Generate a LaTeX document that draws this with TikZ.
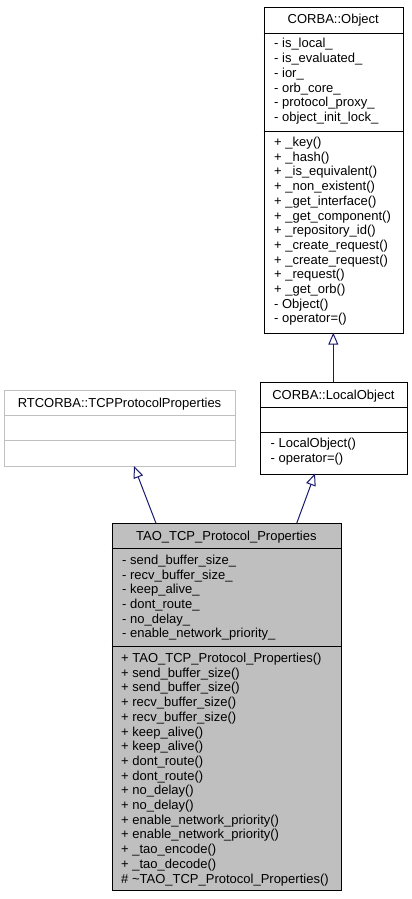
\documentclass[tikz,border=0pt]{standalone}
\usepackage{fontspec}
\setmainfont{Liberation Sans}
\usetikzlibrary{arrows.meta}
\definecolor{edgeblue}{HTML}{191970}
\definecolor{grayfill}{HTML}{BFBFBF}
\definecolor{grayline}{HTML}{C0C0C0}
\begin{document}
\begin{tikzpicture}[x=1pt,y=-1pt,
  classbox/.style={draw=black,line width=1pt,fill=white,inner sep=0pt,anchor=north west},
  sepline/.style={draw=black,line width=1pt},
  member/.style={anchor=base west,inner sep=0pt,font=\fontsize{13}{14.7}\selectfont},
  ctitle/.style={anchor=base,inner sep=0pt,font=\fontsize{13}{14.7}\selectfont},
  inherit/.style={draw=edgeblue,line width=1pt,-{Triangle[open,length=12pt,width=10pt]}}]
\useasboundingbox (0,0) rectangle (412,899);

% ---------- CORBA::Object ----------
\node[classbox,minimum width=139.5pt,minimum height=326pt] (obj) at (263.5,6.7) {};
\draw[sepline] (263.5,33.3) -- (403,33.3);
\draw[sepline] (263.5,131.7) -- (403,131.7);
\node[ctitle] (objt) at (333.25,24) {CORBA::Object};
\foreach \t [count=\i from 0] in {- is\_local\_,- is\_evaluated\_,- ior\_,- orb\_core\_,- protocol\_proxy\_,- object\_init\_lock\_}
  \node[member] (oa\i) at (274,48+\i*14.7) {\t};
\foreach \t [count=\i from 0] in {+ \_key(),+ \_hash(),+ \_is\_equivalent(),+ \_non\_existent(),+ \_get\_interface(),+ \_get\_component(),+ \_repository\_id(),+ \_create\_request(),+ \_create\_request(),+ \_request(),+ \_get\_orb(),- Object(),- operator=()}
  \node[member] (om\i) at (274,146.5+\i*14.7) {\t};

% ---------- CORBA::LocalObject ----------
\node[classbox,minimum width=146.7pt,minimum height=91.5pt] (lo) at (260,382) {};
\draw[sepline] (260,407.3) -- (406.7,407.3);
\draw[sepline] (260,432.7) -- (406.7,432.7);
\node[ctitle] (lot) at (333.35,399.5) {CORBA::LocalObject};
\foreach \t [count=\i from 0] in {- LocalObject(),- operator=()}
  \node[member] (lm\i) at (270.5,447.5+\i*14.7) {\t};

% ---------- RTCORBA::TCPProtocolProperties ----------
\node[classbox,draw=grayline,minimum width=231pt,minimum height=76pt] (rt) at (4,390) {};
\draw[sepline,draw=grayline] (4,415) -- (235,415);
\draw[sepline,draw=grayline] (4,440.7) -- (235,440.7);
\node[ctitle] (rtt) at (119.5,407.3) {RTCORBA::TCPProtocolProperties};

% ---------- TAO_TCP_Protocol_Properties ----------
\node[classbox,fill=grayfill,minimum width=229.3pt,minimum height=366.7pt] (tao) at (111.7,523.3) {};
\draw[sepline] (111.7,548.3) -- (341,548.3);
\draw[sepline] (111.7,646.7) -- (341,646.7);
\node[ctitle] (taot) at (226.35,540.3) {TAO\_TCP\_Protocol\_Properties};
\foreach \t [count=\i from 0] in {- send\_buffer\_size\_,- recv\_buffer\_size\_,- keep\_alive\_,- dont\_route\_,- no\_delay\_,- enable\_network\_priority\_}
  \node[member] (ta\i) at (122,564.3+\i*14.7) {\t};
\foreach \t [count=\i from 0] in {+ TAO\_TCP\_Protocol\_Properties(),+ send\_buffer\_size(),+ send\_buffer\_size(),+ recv\_buffer\_size(),+ recv\_buffer\_size(),+ keep\_alive(),+ keep\_alive(),+ dont\_route(),+ dont\_route(),+ no\_delay(),+ no\_delay(),+ enable\_network\_priority(),+ enable\_network\_priority(),+ \_tao\_encode(),+ \_tao\_decode(),\# \textasciitilde TAO\_TCP\_Protocol\_Properties()}
  \node[member] (tm\i) at (121,662.5+\i*14.7) {\t};

% ---------- inheritance connectors ----------
\coordinate (loTop) at (333.3,382);
\coordinate (objBot) at (333.3,332.7);
\coordinate (taoL) at (156,523.3);
\coordinate (rtBot) at (134,466);
\coordinate (taoR) at (296.7,523.3);
\coordinate (loBot) at (315,473.5);
\draw[inherit] (loTop) -- (objBot);
\draw[inherit] (taoL) -- (rtBot);
\draw[inherit] (taoR) -- (loBot);
\end{tikzpicture}
\end{document}
